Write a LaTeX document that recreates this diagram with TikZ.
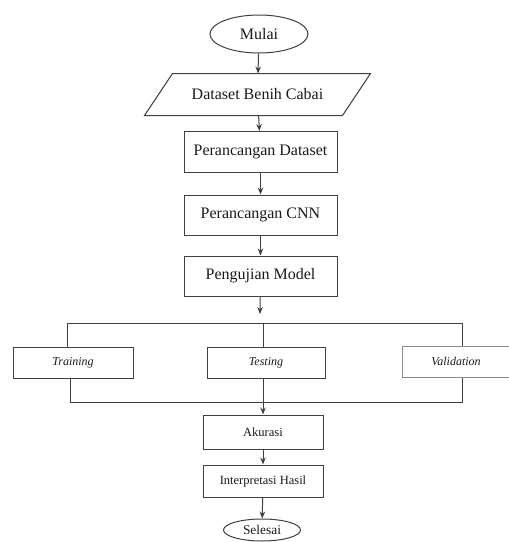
\documentclass[tikz,border=0pt]{standalone}
\usepackage{fontspec}
\setmainfont{Liberation Serif}
\usepackage{tikz}
\usetikzlibrary{shapes.geometric,calc,arrows.meta}

\begin{document}
\begin{tikzpicture}[x=1pt,y=-1pt,>={Stealth[length=7pt,width=5.5pt]},line width=1pt,draw=black!75,
    big/.style={draw,rectangle,font=\fontsize{16}{18}\selectfont,text=black!90,minimum width=153pt,minimum height=41pt,inner sep=0pt},
    small/.style={draw,rectangle,font=\fontsize{12.5}{14}\selectfont,text=black!90,minimum width=120pt,minimum height=32pt,inner sep=0pt},
    branch/.style={draw,rectangle,font=\fontsize{12}{14}\selectfont\itshape,text=black!90,minimum height=31pt,inner sep=0pt},
    term/.style={draw,ellipse,text=black!90,inner sep=0pt}]
        \useasboundingbox (0,0) rectangle (509,542);
        \node[term,minimum width=98pt,minimum height=38pt,font=\fontsize{16}{18}\selectfont] (start) at (259,34) {Mulai};
        % input parallelogram
        \node[minimum width=225pt,minimum height=41pt,inner sep=0pt,font=\fontsize{16}{18}\selectfont,text=black!90] (data) at (257.5,94.5) {Dataset Benih Cabai};
        \draw (data.south west) -- ([xshift=28pt]data.north west) -- (data.north east) -- ([xshift=-28pt]data.south east) -- cycle;
        \node[big] (prep) at (260.5,152) {Perancangan Dataset};
        \node[big,minimum height=40pt] (cnn) at (260.5,215) {Perancangan CNN};
        \node[big,minimum height=40pt] (test) at (260.5,276) {Pengujian Model};
        \coordinate (split) at (260,314);
        \coordinate (busa) at (0,323);
        \coordinate (busb) at (0,402);
        \node[branch,minimum width=120pt] (train) at (73,362.5) {Training};
        \node[branch,minimum width=118pt] (testing) at (266,362.5) {Testing};
        \node[branch,minimum width=108pt,draw=black!45] (val) at (456,361.5) {Validation};
        \node[small,minimum height=34pt] (acc) at (263,432) {Akurasi};
        \node[small] (interp) at (263,481) {Interpretasi Hasil};
        \node[term,minimum width=77pt,minimum height=22pt,font=\fontsize{13.4}{15}\selectfont] (stop) at (262,530) {Selesai};
        \draw[->] (start) -- (data);
        \draw[->] (data) -- (prep);
        \draw[->] (prep) -- (cnn);
        \draw[->] (cnn) -- (test);
        \draw[->] (test) -- (split);
        % fork and join
        \draw ([xshift=-6pt]train.north) -- ([xshift=-6pt]train.north |- busa) -| ([xshift=6pt]val.north);
        \draw ([xshift=-3pt]testing.north) -- ([xshift=-3pt]testing.north |- busa);
        \draw ([xshift=-3pt]train.south) -- ([xshift=-3pt]train.south |- busb) -| ([xshift=6pt]val.south);
        \draw ([xshift=-3pt]testing.south) -- ([xshift=-3pt]testing.south |- busb);
        \draw[->] ([xshift=-3pt]testing.south |- busb) -- (acc);
        \draw[->] (acc) -- (interp);
        \draw[->] (interp) -- (stop);
    \end{tikzpicture}
\end{document}
